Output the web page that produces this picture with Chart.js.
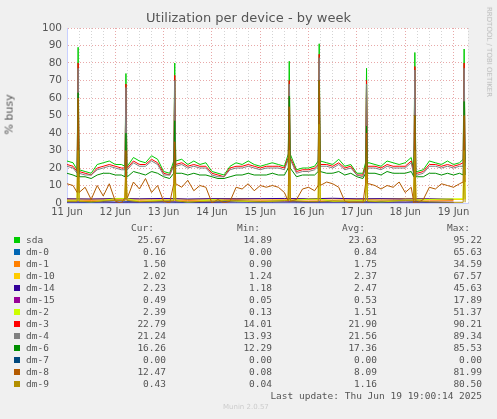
<!DOCTYPE html>
<html>
  <head>
    <script src="https://cdn.jsdelivr.net/npm/chart.js"></script>
    <style>
      body { margin: 0; background: #f0f0f0; width: 497px; height: 419px; overflow: hidden; position: relative; font-family: "DejaVu Sans", sans-serif; color: #555; }
      #wrap { position: absolute; left: 0; top: 0; width: 497px; height: 419px; }
      .abs { position: absolute; white-space: pre; }
      #legend { position: absolute; left: 0; top: 222px; font-family: "DejaVu Sans Mono", monospace; font-size: 9.5px; color: #555; }
      #legend div { position: absolute; white-space: pre; }
    </style>
  </head>
  <body>
    <div id="wrap"><canvas id="chart" width="497" height="419"></canvas></div>
    <div class="abs" style="left:0;width:497px;top:10px;text-align:center;font-size:13px;color:#555">Utilization per device - by week</div>
    <div class="abs" style="left:-11px;top:108px;font-size:11px;transform:rotate(-90deg)">% busy</div>
    <div class="abs" style="left:444px;top:48px;font-size:7px;color:#bbb;transform:rotate(90deg)">RRDTOOL / TOBI OETIKER</div>
    <div id="legend"></div>

    <script>
      // times in days since 11 Jun 00:00, base series every 3h
      const dayLabels = ["11 Jun", "12 Jun", "13 Jun", "14 Jun", "15 Jun", "16 Jun", "17 Jun", "18 Jun", "19 Jun"];
      const names = ["sda", "dm-0", "dm-1", "dm-10", "dm-14", "dm-15", "dm-2", "dm-3", "dm-4", "dm-6", "dm-7", "dm-8", "dm-9"];
      const colors = ["#00cc00", "#0066b3", "#ff8000", "#ffcc00", "#330099", "#990099", "#ccff00", "#ff0000", "#808080", "#008f00", "#00487d", "#b35a00", "#b38f00"];
      const cur = ["25.67", "0.16", "1.50", "2.02", "2.23", "0.49", "2.39", "22.79", "21.24", "16.26", "0.00", "12.47", "0.43"];
      const min = ["14.89", "0.00", "0.90", "1.24", "1.18", "0.05", "0.13", "14.01", "13.93", "12.29", "0.00", "0.08", "0.04"];
      const avg = ["23.63", "0.84", "1.75", "2.37", "2.47", "0.53", "1.51", "21.90", "21.56", "17.36", "0.00", "8.09", "1.16"];
      const max = ["95.22", "65.63", "34.59", "67.57", "45.63", "17.89", "51.37", "90.21", "89.34", "85.53", "0.00", "81.99", "80.50"];

      const sda = [24,23,19,18,17,22,23,24, 22,22,21,26,24,23,27,25, 18,17,24,25,22,24,22,23, 18,17,16,21,23,22,24,22,
        21,22,23,22,21,28,19,20, 20,21,24,23,22,25,21,22, 17,17,23,22,21,24,23,22, 23,26,18,19,24,23,22,24, 22,23,25];
      const dm3 = [22,21,18,17,16,20,21,22, 21,20,20,24,22,22,25,23, 17,16,22,23,21,22,21,21, 17,16,15,20,21,21,22,21,
        20,21,21,21,20,26,18,19, 19,20,22,22,21,23,20,21, 16,16,21,21,20,22,21,21, 21,24,17,18,22,22,21,22, 21,22,23];
      const dm4 = [21,20,17,16,16,19,20,21, 20,19,19,23,21,21,24,22, 16,16,21,22,20,21,20,20, 16,15,15,19,20,20,21,20,
        19,20,20,20,19,25,17,18, 18,19,21,21,20,22,19,20, 16,15,20,20,19,21,20,20, 20,23,16,17,21,21,20,21, 20,21,21];
      const dm6 = [17,16,15,15,14,16,17,17, 16,16,15,18,17,16,18,17, 15,14,17,17,16,17,16,16, 15,14,14,15,16,16,17,16,
        16,16,17,16,16,20,15,16, 16,16,18,17,17,18,16,17, 15,14,17,17,16,18,17,17, 17,18,15,15,17,17,16,17, 16,17,16];
      const dm8 = [11,10,6,9,2,10,4,11, 1,0,3,12,8,14,6,10, 1,0,11,9,13,7,10,9, 0,2,0,1,9,8,11,7,
        10,9,10,9,6,1,2,8, 9,7,10,12,11,9,1,0, 0,0,11,10,8,10,9,12, 6,9,0,2,9,8,11,10, 9,11,12];
      // small devices every 12h
      const dm0 = [0.8,0.5,1.2,0.6,0.9,0.4,0.7,1.0,0.8,1.1,0.6,0.9,0.7,0.8,1.2,0.5,0.2];
      const dm1 = [1.7,1.5,1.9,1.6,1.8,1.5,1.7,1.9,1.6,1.8,1.7,1.6,1.9,1.7,1.8,1.6,1.5];
      const dm10 = [2.3,2.1,2.6,2.2,2.5,2.0,2.4,2.6,2.3,2.4,2.2,2.5,2.3,2.4,2.6,2.2,2.0];
      const dm14 = [2.4,2.3,2.5,2.4,2.6,2.3,2.5,2.4,2.5,2.6,2.4,2.7,2.4,2.5,2.3,2.4,2.2];
      const dm15 = [0.5,0.6,0.4,0.5,0.6,0.5,0.4,0.6,0.5,0.6,0.5,0.5,0.6,0.4,0.5,0.5,0.5];
      const dm2 = [1.2,0.4,2.5,0.8,1.6,0.3,1.9,1.1,0.6,1.4,2.2,0.9,1.3,0.5,1.7,2.0,2.4];
      const dm7 = [0,0,0,0,0,0,0,0,0,0,0,0,0,0,0,0,0];
      const dm9 = [1.0,0.8,1.5,0.7,1.2,0.6,1.1,1.4,0.9,1.3,0.8,1.2,1.0,1.1,1.3,0.7,0.4];

      // daily spikes: time and peak per device
      const spikeTimes = [0.23, 1.22, 2.23, 4.6, 5.22, 6.2, 7.2, 8.22];
      const spikeSda = [89, 74, 80, 81, 91, 77, 86, 88];
      const spikeDm3 = [80, 68, 73, 70, 85, 70, 78, 80];
      const spikeDm4 = [77, 66, 70, 68, 83, 68, 76, 77];
      const spikeDm6 = [63, 40, 47, 61, 70, 44, 50, 58];
      const spikeDm8 = [60, 30, 35, 55, 70, 40, 50, 50];
      const spikeDm2 = [45, 20, 30, 50, 48, 35, 40, 45];
      const spikeDm10 = [40, 25, 28, 35, 60, 30, 38, 42];
      const spikeDm9 = [30, 15, 20, 30, 45, 20, 30, 30];

      function series(vals, step, spikes) {
        const pts = vals.map((v, i) => ({ x: i * step, y: v }));
        if (spikes) {
          spikeTimes.forEach((t, k) => {
            const near = vals[Math.min(vals.length - 1, Math.round(t / step))];
            pts.push({ x: t - 0.02, y: near }, { x: t, y: spikes[k] }, { x: t + 0.02, y: near });
          });
          pts.sort((a, b) => a.x - b.x);
        }
        return pts;
      }

      const seriesData = [
        series(sda, 0.125, spikeSda), series(dm0, 0.5), series(dm1, 0.5), series(dm10, 0.5, spikeDm10),
        series(dm14, 0.5), series(dm15, 0.5), series(dm2, 0.5, spikeDm2), series(dm3, 0.125, spikeDm3),
        series(dm4, 0.125, spikeDm4), series(dm6, 0.125, spikeDm6), series(dm7, 0.5), series(dm8, 0.125, spikeDm8),
        series(dm9, 0.5, spikeDm9)
      ];

      new Chart(document.getElementById("chart"), {
        type: "line",
        data: {
          datasets: names.map((n, i) => ({
            label: n,
            data: seriesData[i],
            borderColor: colors[i],
            borderWidth: 1,
            pointRadius: 0,
            tension: 0,
            order: names.length - i,
          })),
        },
        options: {
          responsive: false,
          animation: false,
          devicePixelRatio: 1,
          layout: { padding: { left: 0, top: 28, right: 29, bottom: 200 } },
          plugins: {
            legend: { display: false },
            tooltip: { enabled: false },
          },
          scales: {
            x: {
              type: "linear",
              min: 0,
              max: 8.3,
              afterFit: (s) => { s.height = 16; },
              border: { display: true, color: "#c8d0ff", dash: [1, 2] },
              grid: {
                color: (c) => (Number.isInteger(c.tick.value) ? "#e8a8a8" : "#d4d4d4"),
                drawTicks: false,
              },
              ticks: {
                stepSize: 0.25,
                autoSkip: false,
                maxRotation: 0,
                padding: 3,
                color: "#555",
                font: { family: "DejaVu Sans", size: 10 },
                callback: (v) => (Number.isInteger(v) ? dayLabels[v] : ""),
              },
            },
            y: {
              min: 0,
              max: 100,
              afterFit: (s) => { s.width = 67; },
              border: { display: true, color: "#c8d0ff", dash: [1, 2] },
              grid: {
                color: (c) => (c.tick.value % 10 === 0 ? "#e8a8a8" : "#d4d4d4"),
                drawTicks: false,
              },
              ticks: {
                stepSize: 5,
                padding: 5,
                color: "#555",
                font: { family: "DejaVu Sans", size: 10.5 },
                callback: (v) => (v % 10 === 0 ? v : ""),
              },
            },
          },
        },
        plugins: [{
          id: "chartAreaBg",
          beforeDraw(chart) {
            const a = chart.chartArea, ctx = chart.ctx;
            ctx.save();
            ctx.fillStyle = "#ffffff";
            ctx.fillRect(a.left, a.top, a.right - a.left, a.bottom - a.top);
            ctx.restore();
          },
        }],
      });

      // legend table below the chart
      const lg = document.getElementById("legend");
      function cell(text, left, top, right) {
        const d = document.createElement("div");
        d.textContent = text;
        d.style.top = top + "px";
        if (right !== undefined) { d.style.right = (497 - right) + "px"; d.style.textAlign = "right"; }
        else d.style.left = left + "px";
        lg.appendChild(d);
        return d;
      }
      lg.style.width = "497px";
      cell("Cur:", 0, 0, 154); cell("Min:", 0, 0, 260); cell("Avg:", 0, 0, 365); cell("Max:", 0, 0, 470);
      names.forEach((n, i) => {
        const top = 12 + i * 12;
        const sw = document.createElement("div");
        Object.assign(sw.style, { left: "14px", top: (top + 3) + "px", width: "6px", height: "6px", background: colors[i] });
        lg.appendChild(sw);
        cell(n, 26, top);
        cell(cur[i], 0, top, 166); cell(min[i], 0, top, 272); cell(avg[i], 0, top, 377); cell(max[i], 0, top, 482);
      });
      cell("Last update: Thu Jun 19 19:00:14 2025", 0, 168, 482);
      const m = cell("Munin 2.0.57", 223, 181);
      m.style.fontFamily = "DejaVu Sans"; m.style.fontSize = "7px"; m.style.color = "#ccc";
    </script>
  </body>
</html>
